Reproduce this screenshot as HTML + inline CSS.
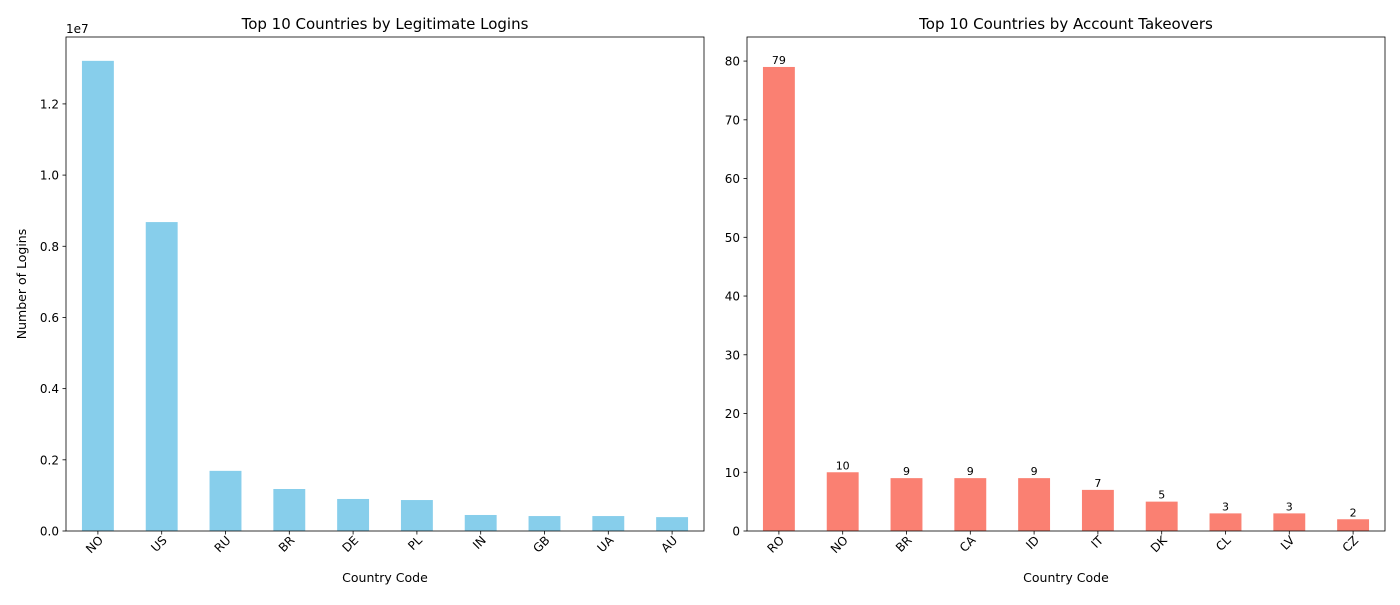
<!DOCTYPE html>
<html><head><meta charset="utf-8"><style>
body{margin:0;background:#fff;font-family:"Liberation Sans","DejaVu Sans",sans-serif}
svg text{font-family:"DejaVu Sans","Liberation Sans",sans-serif;fill:#000}
</style></head><body>
<svg id="c" width="1400" height="600"></svg>
<script>
const leftCats=["NO","US","RU","BR","DE","PL","IN","GB","UA","AU"];
const leftVals=[13210000,8680000,1690000,1180000,900000,870000,450000,420000,420000,390000];
const leftTicks=[0,0.2,0.4,0.6,0.8,1.0,1.2];
const rightCats=["RO","NO","BR","CA","ID","IT","DK","CL","LV","CZ"];
const rightVals=[79,10,9,9,9,7,5,3,3,2];
const rightTicks=[0,10,20,30,40,50,60,70,80];
const svg=document.getElementById('c');const NS="http://www.w3.org/2000/svg";
function el(t,a,txt){const e=document.createElementNS(NS,t);for(const k in a)e.setAttribute(k,a[k]);if(txt!==undefined)e.textContent=txt;svg.appendChild(e);return e;}
function panel(o){
 const {x0,x1,y0,y1,ymax,cats,vals,ticks,tickScale,tickFmt,color,title,ylabel,labels,name}=o;
 const yS=v=>y1-(v/ymax)*(y1-y0);
 const step=(x1-x0)/cats.length;
 const xS=i=>x0+step*(i+0.5);
 ticks.forEach(t=>{const y=yS(t*tickScale);
  let e=el('line',{x1:x0-3.5,x2:x0,y1:y,y2:y,stroke:'#000','stroke-width':0.8});
  
  e=el('text',{x:x0-7,y:y+4.5,'font-size':12,'text-anchor':'end'},tickFmt(t));
  });
 cats.forEach((c,i)=>{const cx=xS(i),top=yS(vals[i]);
  let e=el('rect',{x:cx-step/4,y:top,width:step/2,height:y1-top,fill:color});
  
  e=el('line',{x1:cx,x2:cx,y1:y1,y2:y1+3.5,stroke:'#000','stroke-width':0.8});
  
  e=el('text',{x:cx+6,y:y1+10,'font-size':12,'text-anchor':'end',transform:`rotate(-45 ${cx+6} ${y1+10})`},c);
  
  if(labels){e=el('text',{x:cx,y:top-3,'font-size':11,'text-anchor':'middle'},String(vals[i]));
   }
 });
 let e=el('rect',{x:x0,y:y0,width:x1-x0,height:y1-y0,fill:'none',stroke:'#000','stroke-width':0.8});
 
 e=el('text',{x:(x0+x1)/2,y:y0-8,'font-size':15,'text-anchor':'middle'},title);
 
 e=el('text',{x:(x0+x1)/2,y:582,'font-size':12.5,'text-anchor':'middle'},'Country Code');
 
 if(ylabel){e=el('text',{x:26,y:(y0+y1)/2,'font-size':12.5,'text-anchor':'middle',transform:`rotate(-90 26 ${(y0+y1)/2})`},ylabel);
  }
}
panel({x0:66,x1:704,y0:37,y1:531,ymax:13880000,cats:leftCats,vals:leftVals,ticks:leftTicks,tickScale:1e7,tickFmt:t=>t.toFixed(1),color:'#87ceeb',title:'Top 10 Countries by Legitimate Logins',ylabel:'Number of Logins',labels:false,name:'logins'});
let m=el('text',{x:66,y:33,'font-size':12},'1e7');

panel({x0:747,x1:1385,y0:37,y1:531,ymax:84.1,cats:rightCats,vals:rightVals,ticks:rightTicks,tickScale:1,tickFmt:t=>String(t),color:'#fa8072',title:'Top 10 Countries by Account Takeovers',ylabel:null,labels:true,name:'takeovers'});
</script>
</body></html>
